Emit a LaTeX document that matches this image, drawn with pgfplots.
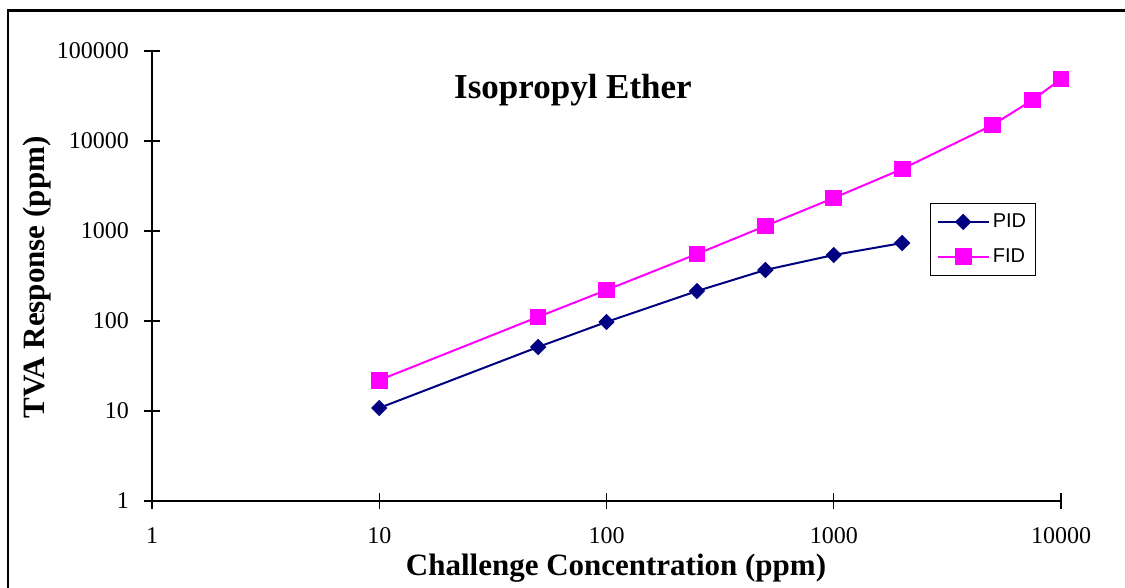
\documentclass[border=0pt]{standalone}
\usepackage{fontspec}
\setmainfont{Liberation Serif}
\newfontfamily\legfont{Liberation Sans}
\usepackage{pgfplots}
\pgfplotsset{compat=1.18}
\definecolor{pidblue}{RGB}{0,0,128}
\definecolor{fidmag}{RGB}{255,0,255}
\begin{document}
\begin{tikzpicture}
\useasboundingbox (0pt,0pt) rectangle (562.5pt,294pt);
\fill[white] (0pt,0pt) rectangle (562.5pt,294pt);
\draw[line width=1.1pt] (4pt,-2pt) -- (4pt,288.75pt) -- (565pt,288.75pt);
\begin{axis}[
  at={(76pt,43.5pt)}, anchor=south west,
  scale only axis, width=454.5pt, height=225pt,
  xmode=log, ymode=log, log basis x=10, log basis y=10,
  xmin=1, xmax=10000, ymin=1, ymax=100000,
  axis x line=bottom, axis y line=left,
  axis line style={-, line width=0.7pt},
  xtick={1,10,100,1000,10000}, xticklabels={1,10,100,1000,10000},
  ytick={1,10,100,1000,10000,100000}, yticklabels={1,10,100,1000,10000,100000},
  minor tick num=0, minor xtick={}, minor ytick={},
  tick align=center, major tick length=8pt,
  tick style={line width=0.7pt, black},
  ticklabel style={font=\fontsize{12}{14}\selectfont},
  xticklabel style={yshift=-8pt, inner sep=1pt},
  yticklabel style={xshift=-4pt},
  clip=false,
  legend style={at={(0.856,0.662)}, anchor=north west, draw=black, line width=0.5pt,
    font=\legfont\fontsize{10}{12}\selectfont, row sep=5pt, inner xsep=3pt, inner ysep=3pt,
    nodes={inner xsep=1.5pt}},
  legend cell align=left,
  legend image code/.code={\draw[mark repeat=2,mark phase=2] plot coordinates {(0cm,0cm)(0.45cm,0cm)(0.9cm,0cm)};},
]
\addplot[color=pidblue, line width=1pt, mark=square*, mark size=2.4pt, mark options={rotate=45, solid}]
  coordinates {(10,10.8) (50,51.4) (100,97.5) (250,215) (500,369) (1000,541) (2000,735)};
\addlegendentry{PID}
\addplot[color=fidmag, line width=1pt, mark=square*, mark size=3.7pt, mark options={solid}]
  coordinates {(10,22) (50,111) (100,221) (250,555) (500,1136) (1000,2326) (2000,4885) (5000,15060) (7500,28550) (10000,48840)};
\addlegendentry{FID}
\end{axis}
\node[inner sep=1pt, font=\bfseries\fontsize{17.5}{20}\selectfont] at (286.5pt,249pt) {Isopropyl Ether};
\node[inner sep=0pt, font=\bfseries\fontsize{15.5}{18}\selectfont] at (308pt,10pt) {Challenge Concentration (ppm)};
\node[inner sep=1pt, font=\bfseries\fontsize{15.5}{18}\selectfont, rotate=90] at (18.75pt,155.25pt) {TVA Response (ppm)};
\end{tikzpicture}
\end{document}
